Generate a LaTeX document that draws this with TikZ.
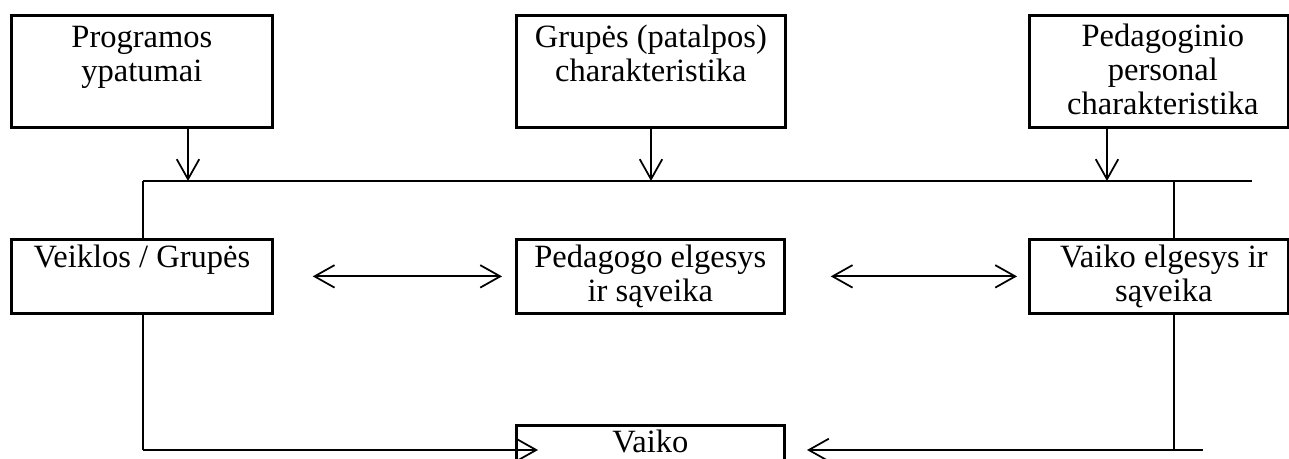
\documentclass[tikz,border=0pt]{standalone}
\usepackage{fontspec}
\setmainfont{Liberation Serif}
\usetikzlibrary{arrows.meta}
\begin{document}
\begin{tikzpicture}[x=0.4pt,y=-0.4pt,
  box/.style={draw, line width=1.1pt, inner sep=0pt, anchor=north west},
  txt/.style={anchor=north, inner sep=0pt, align=center, font=\fontsize{13}{13.6}\selectfont},
  ln/.style={line width=0.7pt},
  arr/.style={ln, -{Straight Barb[length=8pt,width=9pt]}},
  darr/.style={ln, {Straight Barb[length=8pt,width=9pt]}-{Straight Barb[length=8pt,width=9pt]}}]
\path[use as bounding box] (0,0) rectangle (1289,459);
\clip (0,0) rectangle (1289,459);
% top row
\node[box, minimum width=104.4pt, minimum height=44.8pt] (b1) at (10,14) {};
\node[box, minimum width=107.6pt, minimum height=44.8pt] (b2) at (515,14) {};
\node[box, minimum width=103.6pt, minimum height=44.8pt] (b3) at (1028,14) {};
\node[txt] (t1) at ([yshift=-3.5pt]b1.north) {\strut Programos\\ypatumai};
\node[txt] (t2) at ([yshift=-3.5pt]b2.north) {\strut Grupės (patalpos)\\charakteristika};
\node[txt] (t3) at ([xshift=1.6pt,yshift=-3.3pt]b3.north) {\strut Pedagoginio\\personal\\charakteristika};
% middle row
\node[box, minimum width=104.4pt, minimum height=29.6pt] (b4) at (10,238) {};
\node[box, minimum width=107.2pt, minimum height=29.6pt] (b5) at (515,238) {};
\node[box, minimum width=103.6pt, minimum height=29.6pt] (b6) at (1028,238) {};
\node[txt] (t4) at ([yshift=-2pt]b4.north) {\strut Veiklos / Grupės};
\node[txt] (t5) at ([yshift=-2pt]b5.north) {\strut Pedagogo elgesys\\ir sąveika};
\node[txt] (t6) at ([xshift=2pt,yshift=-2pt]b6.north) {\strut Vaiko elgesys ir\\sąveika};
% bottom box
\node[box, minimum width=107.2pt, minimum height=22pt] (b7) at (515,424) {};
\node[txt] (t7) at ([yshift=-1.5pt]b7.north) {\strut Vaiko};
% bus
\coordinate (busL) at (143,181);
\coordinate (busR) at (1252,181);
\coordinate (vR) at (1174,181);
\coordinate (a1) at (188,0);
\coordinate (a2) at (651,0);
\coordinate (a3) at (1107,0);
\draw[ln] (busL) -- (busR);
\draw[arr] (b1.south -| a1) -- (a1 |- busL);
\draw[arr] (b2.south -| a2) -- (a2 |- busL);
\draw[arr] (b3.south -| a3) -- (a3 |- busL);
\draw[ln] (busL) -- (busL |- b4.north);
\draw[ln] (vR) -- (vR |- b6.north);
% double arrows
\draw[darr] ([xshift=15.6pt]b4.east) -- ([xshift=-5.2pt]b5.west);
\draw[darr] ([xshift=18pt]b5.east) -- ([xshift=-4.4pt]b6.west);
% bottom connectors
\coordinate (cL) at (143,450);
\coordinate (tipL) at (538,450);
\coordinate (cR) at (1174,450);
\coordinate (eR) at (1203,450);
\coordinate (tipR) at (807,450);
\draw[ln] (busL |- b4.south) -- (cL);
\draw[arr] (cL) -- (tipL);
\draw[ln] (vR |- b6.south) -- (cR);
\draw[arr] (eR) -- (tipR);
\end{tikzpicture}
\end{document}
